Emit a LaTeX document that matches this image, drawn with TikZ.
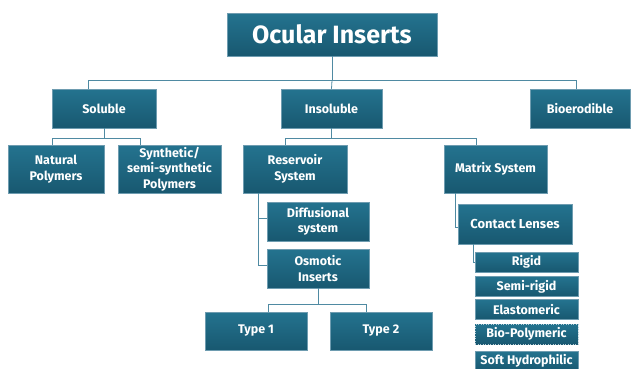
\documentclass[tikz,border=0pt]{standalone}
\usepackage{fontspec}
\setsansfont{Fira Sans}
\usepackage{tikz}
\usetikzlibrary{positioning}

\definecolor{boxtop}{HTML}{24738F}
\definecolor{boxbot}{HTML}{185870}
\definecolor{boxedge}{HTML}{6E9CB0}
\definecolor{linkcol}{HTML}{4F8AA2}

\begin{document}
\begin{tikzpicture}[x=1pt, y=-1pt,
	basic/.style   = {draw=boxedge, line width=0.5pt, rectangle, top color=boxtop, bottom color=boxbot, text=white, align=center, inner sep=0pt, font=\sffamily\bfseries\fontsize{12.5}{15.5}\selectfont},
	root/.style    = {basic, minimum width=210pt, minimum height=43pt, font=\sffamily\bfseries\fontsize{25}{28}\selectfont},
	level 2/.style = {basic, minimum width=102pt, minimum height=39pt},
	level 3/.style = {basic, minimum width=103pt, minimum height=48pt},
	level 4/.style = {basic, minimum width=102pt, minimum height=39pt},
	lens/.style    = {basic, minimum width=103pt, minimum height=20pt},
	link/.style    = {draw=linkcol, line width=0.8pt}]

	\useasboundingbox (0,0) rectangle (631,368);

	% root of the tree
	\node[root] (root) at (332,34.5) {Ocular Inserts};

	% first level
	\node[level 2, minimum width=104pt] (sol)   at (104,108.5) {Soluble};
	\node[level 2, minimum width=101pt] (insol) at (331.5,108.5) {Insoluble};
	\node[level 2, minimum width=100pt] (bio)   at (580,108.5) {Bioerodible};

	% second level
	\node[level 3, minimum width=96pt] (natural) at (56,169) {Natural\\Polymers};
	\node[level 3] (synth)     at (169.5,169) {Synthetic/\\semi-synthetic\\Polymers};
	\node[level 3, minimum width=104pt] (reservoir) at (295,169) {Reservoir\\System};
	\node[level 3] (matrix)    at (495.5,169) {Matrix System};

	% under the reservoir system
	\node[level 4] (diffus)  at (318,221.5) {Diffusional\\system};
	\node[level 4] (osmotic) at (318,268.5) {Osmotic\\Inserts};
	\node[level 4, minimum height=38pt] (type1) at (256,331) {Type 1};
	\node[level 4, minimum height=38pt] (type2) at (381,331) {Type 2};

	% under the matrix system
	\node[level 4, minimum width=114pt, minimum height=40pt, font=\sffamily\bfseries\fontsize{13}{15}\selectfont] (lenses) at (515,224) {Contact Lenses};
	\begin{scope}[every node/.style={lens}]
		\node (rigid)   at (526.5,262)   {Rigid};
		\node (semi)    at (526.5,286.5) {Semi-rigid};
		\node (elasto)  at (526.5,309.5) {Elastomeric};
		\node[draw=boxedge!50, dotted] (biopoly) at (526.5,334) {Bio-Polymeric};
		\node (soft)    at (526.5,361)   {Soft Hydrophilic};
	\end{scope}

	% root to the first level
	\draw[link] (root.south) -- ++(0,24) coordinate (bus);
	\draw[link] ([xshift=-16pt]sol.north) |- (bus) -| ([xshift=-4pt]bio.north);
	\draw[link] (bus) -- (insol.north);

	% soluble
	\draw[link] (sol.south) -- ++(0,10) coordinate (solbus);
	\draw[link] ([xshift=-4pt]natural.north) |- (solbus) -| ([xshift=-29pt]synth.north);

	% insoluble
	\draw[link] (insol.south) -- ++(0,10) coordinate (insbus);
	\draw[link] ([xshift=-10pt]reservoir.north) |- (insbus) -| ([xshift=-19pt]matrix.north);

	% reservoir to its kinds
	\foreach \kid in {diffus,osmotic}
	\draw[link] ([xshift=-37pt]reservoir.south) |- ([yshift=3pt]\kid.west);

	% osmotic inserts
	\draw[link] (osmotic.south) -- ++(0,16) coordinate (osmbus);
	\draw[link] ([xshift=12pt]type1.north) |- (osmbus) -| ([xshift=-15pt]type2.north);

	% matrix system and lenses
	\draw[link] ([xshift=-40pt]matrix.south) |- ([yshift=-3pt]lenses.west);
	\draw[link] ([xshift=-42pt]lenses.south) |- (rigid.west);

\end{tikzpicture}
\end{document}
